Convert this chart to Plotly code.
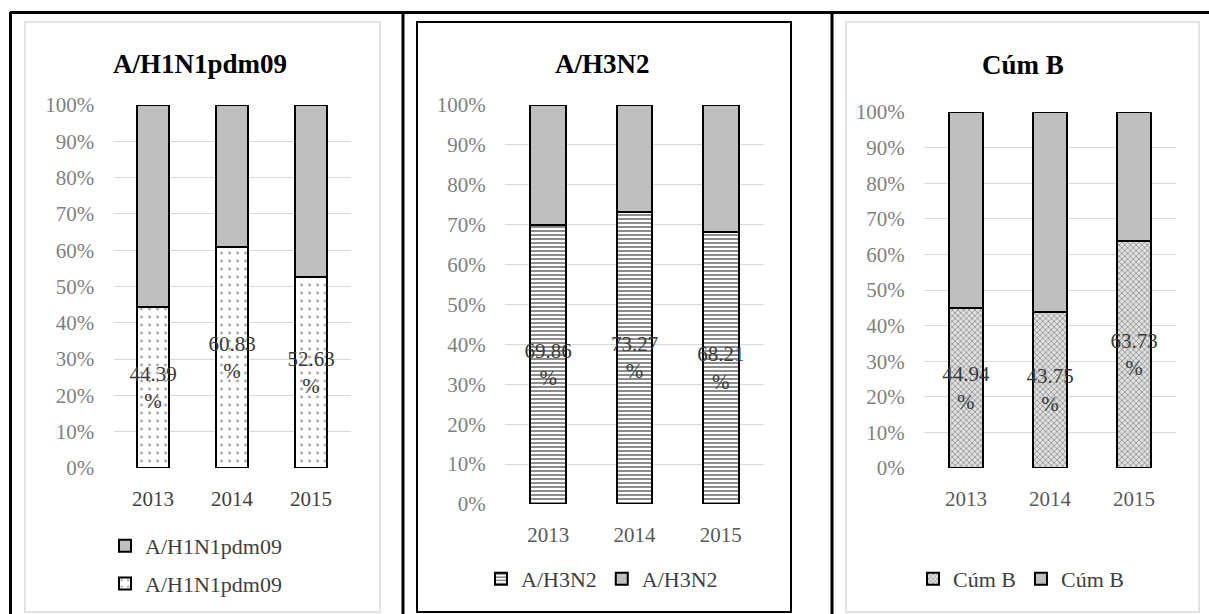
import plotly.graph_objects as go

W, H = 1209, 614

years = ["2013", "2014", "2015"]
titles = ["A/H1N1pdm09", "A/H3N2", "Cúm B"]
h1n1_pos = [44.39, 60.83, 52.63]
h3n2_pos = [69.86, 73.27, 68.21]
cumb_pos = [44.94, 43.75, 63.73]
series_pos = [h1n1_pos, h3n2_pos, cumb_pos]

def px(x):
    return x / W

def py(y):
    return 1 - y / H

SERIF = "Liberation Serif, Times New Roman, serif"
GRAY = "#bfbfbf"

# panel geometry (pixels)
panels = [
    dict(x0=113.5, x1=350.5, ytop=105, ybot=468),
    dict(x0=505, x1=764, ytop=105, ybot=504),
    dict(x0=924, x1=1176, ytop=112, ybot=468),
]
patterns = [
    dict(shape=".", bgcolor="white", fgcolor="#444444", size=8, solidity=0.1),
    dict(shape="-", bgcolor="white", fgcolor="#000000", size=4, solidity=0.45),
    dict(shape="x", bgcolor="#e0e0e0", fgcolor="#4d4d4d", size=4, solidity=0.4),
]
xtick_colors = ["#404040", "#595959", "#595959"]

fig = go.Figure()

for i in range(3):
    xa = "x" if i == 0 else f"x{i+1}"
    ya = "y" if i == 0 else f"y{i+1}"
    lg = "legend" if i == 0 else f"legend{i+1}"
    pos = [v / 100 for v in series_pos[i]]
    rest = [1 - v for v in pos]
    labels = [f"{v:.2f}<br>%" for v in series_pos[i]]
    fig.add_trace(go.Bar(
        x=years, y=pos, name=titles[i], xaxis=xa, yaxis=ya, legend=lg,
        legendgroup=f"a{i}", legendrank=(2 if i == 0 else 1),
        marker=dict(color="white", pattern=patterns[i],
                    line=dict(color="black", width=2)),
        text=labels, textposition="inside", insidetextanchor="middle",
        constraintext="none", textangle=0,
        insidetextfont=dict(family=SERIF, size=21, color="#3a3a3a"),
        width=0.41, showlegend=True,
    ))
    fig.add_trace(go.Bar(
        x=years, y=rest, name=titles[i], xaxis=xa, yaxis=ya, legend=lg,
        legendgroup=f"b{i}", legendrank=(1 if i == 0 else 2),
        marker=dict(color=GRAY, line=dict(color="black", width=2)),
        width=0.41, showlegend=True,
    ))

layout = dict(
    width=W, height=H, margin=dict(l=0, r=0, t=0, b=0, autoexpand=False),
    paper_bgcolor="white", plot_bgcolor="white",
    barmode="stack", showlegend=True,
)

for i, p in enumerate(panels):
    xk = "xaxis" if i == 0 else f"xaxis{i+1}"
    yk = "yaxis" if i == 0 else f"yaxis{i+1}"
    yname = "y" if i == 0 else f"y{i+1}"
    xname = "x" if i == 0 else f"x{i+1}"
    layout[xk] = dict(
        domain=[px(p["x0"]), px(p["x1"])], anchor=yname, type="category",
        showgrid=False, showline=False, zeroline=False,
        ticks="outside", ticklen=12, tickcolor="rgba(0,0,0,0)",
        tickfont=dict(family=SERIF, size=21, color=xtick_colors[i]),
        fixedrange=True, automargin=False,
    )
    layout[yk] = dict(
        domain=[py(p["ybot"]), py(p["ytop"])], anchor=xname,
        range=[0, 1], tickvals=[k / 10 for k in range(11)], tickformat=".0%",
        showgrid=True, gridcolor="#d9d9d9", gridwidth=1,
        zeroline=False, showline=False,
        ticks="outside", ticklen=14, tickcolor="rgba(0,0,0,0)",
        tickfont=dict(family=SERIF, size=21, color="#7f7f7f"),
        fixedrange=True, automargin=False,
    )

layout["legend"] = dict(
    x=px(105), y=py(525), xanchor="left", yanchor="top", orientation="v",
    traceorder="grouped", tracegroupgap=6,
    font=dict(family=SERIF, size=22, color="#404040"),
    bgcolor="rgba(0,0,0,0)", itemwidth=30,
)
layout["legend2"] = dict(
    x=px(602), y=py(579), xanchor="center", yanchor="middle", orientation="h",
    traceorder="normal",
    font=dict(family=SERIF, size=22, color="#404040"),
    bgcolor="rgba(0,0,0,0)", itemwidth=30,
)
layout["legend3"] = dict(
    x=px(1021), y=py(579), xanchor="center", yanchor="middle", orientation="h",
    traceorder="normal",
    font=dict(family=SERIF, size=22, color="#404040"),
    bgcolor="rgba(0,0,0,0)", itemwidth=30,
)

title_pos = [(200, 64), (602, 64), (1023, 65)]
layout["annotations"] = [
    dict(text=f"<b>{t}</b>", x=px(xp), y=py(yp), xref="paper", yref="paper",
         showarrow=False, xanchor="center", yanchor="middle",
         font=dict(family=SERIF, size=27, color="#000000"))
    for t, (xp, yp) in zip(titles, title_pos)
]

def rect(x0, y0, x1, y1, color, width):
    return dict(type="rect", xref="paper", yref="paper",
                x0=px(x0), x1=px(x1), y0=py(y1), y1=py(y0),
                line=dict(color=color, width=width), fillcolor="rgba(0,0,0,0)",
                layer="below")

def line(x0, y0, x1, y1, color="black", width=3):
    return dict(type="line", xref="paper", yref="paper",
                x0=px(x0), x1=px(x1), y0=py(y0), y1=py(y1),
                line=dict(color=color, width=width))

layout["shapes"] = [
    rect(25, 22, 380, 612, "#d9d9d9", 1.5),
    rect(417, 22, 791, 612, "#000000", 2),
    rect(846, 22, 1199, 612, "#d9d9d9", 1.5),
    line(10, 12.5, 1209, 12.5),
    line(10.5, 12, 10.5, 614),
    line(403, 12, 403, 614),
    line(832, 12, 832, 614),
]

fig.update_layout(**layout)
fig.write_html("out.html")
